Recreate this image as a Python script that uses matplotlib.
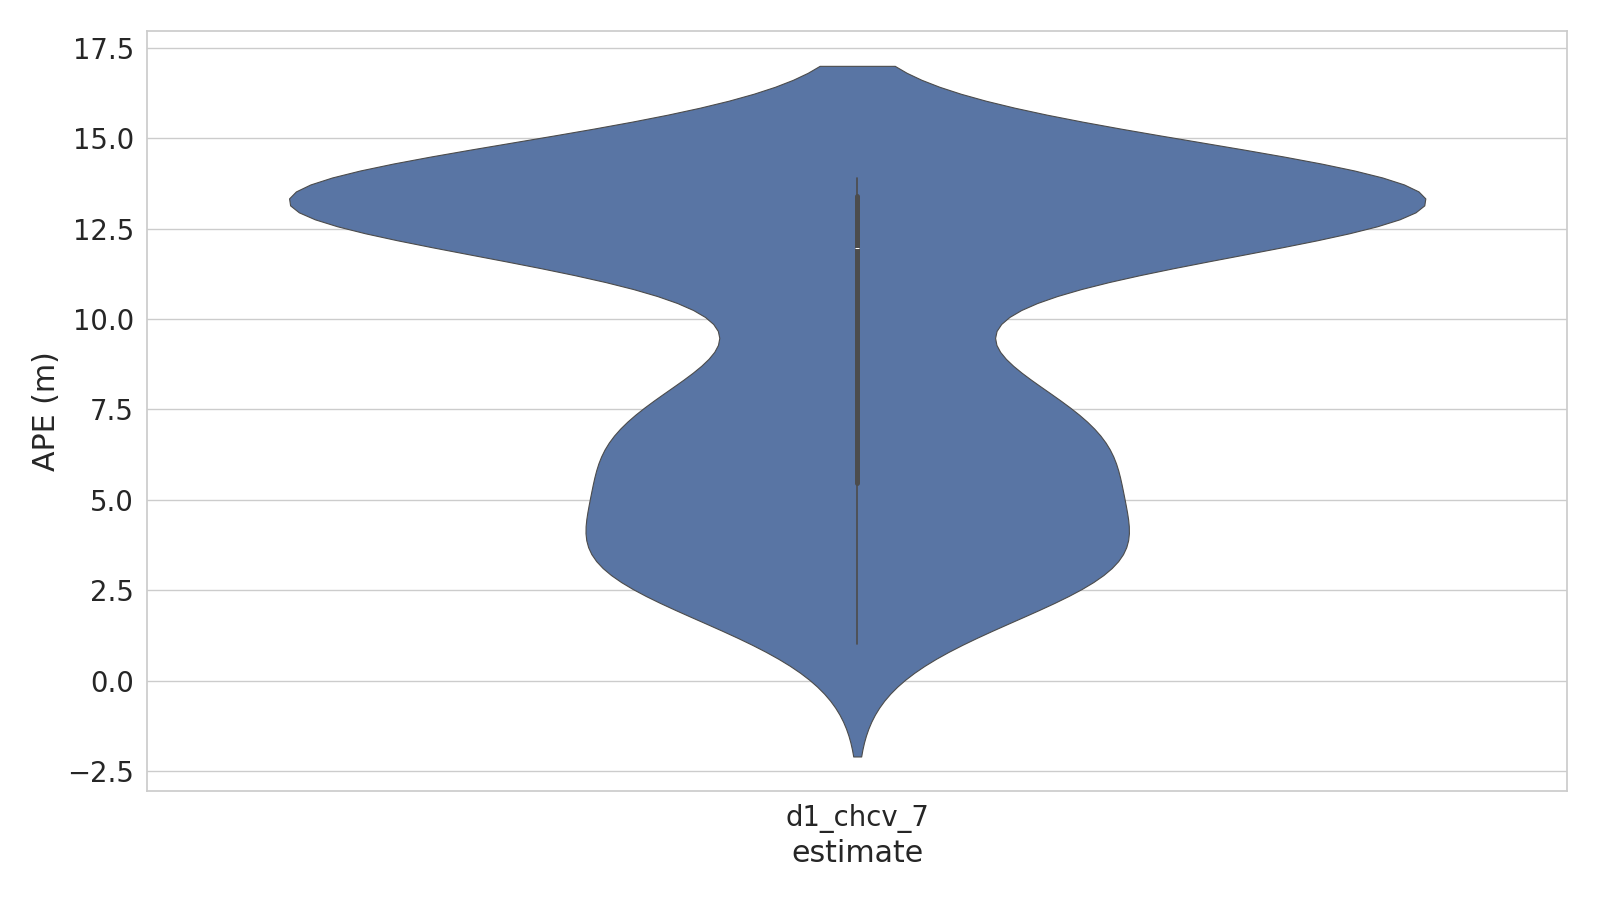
import numpy as np
import pandas as pd
import matplotlib
matplotlib.use("Agg")
import matplotlib.pyplot as plt
import seaborn as sns

ESTIMATE = "d1_chcv_7"

# APE per sample (m), sorted, one list per quartile block
ape_q1 = [1.00, 2.75, 2.85, 2.95, 3.05, 3.12, 3.20, 3.30, 3.40, 4.00, 5.13, 5.30]
ape_q2 = [5.50, 6.10, 6.17, 6.26, 6.77, 7.17, 7.35, 7.53, 8.43, 8.52, 10.35, 11.90]
ape_q3 = [12.00, 12.95, 13.00, 13.04, 13.08, 13.11, 13.14, 13.18, 13.24, 13.29, 13.33, 13.38]
ape_q4 = [13.46, 13.46, 13.46, 13.47, 13.47, 13.48, 13.48, 13.49, 13.50, 13.84, 13.88, 13.90]

KDE_BW = 1.55  # kernel width in metres (violin runs 2 bw past the data)


def main():
    sns.set_theme(style="whitegrid", font_scale=1.8)
    plt.rcParams["font.family"] = ["DejaVu Sans"]

    ape = np.array(ape_q1 + ape_q2 + ape_q3 + ape_q4)
    df = pd.DataFrame({"estimate": ESTIMATE, "APE (m)": ape})

    fig = plt.figure(figsize=(16, 9), dpi=100)
    ax = fig.add_axes([0.0919, 0.1211, 0.8877, 0.8441])
    sns.violinplot(data=df, x="estimate", y="APE (m)", ax=ax,
                   bw_method=KDE_BW / np.std(ape, ddof=1), linewidth=0.8)

    fig.savefig("out.png", dpi=100)


if __name__ == "__main__":
    main()
